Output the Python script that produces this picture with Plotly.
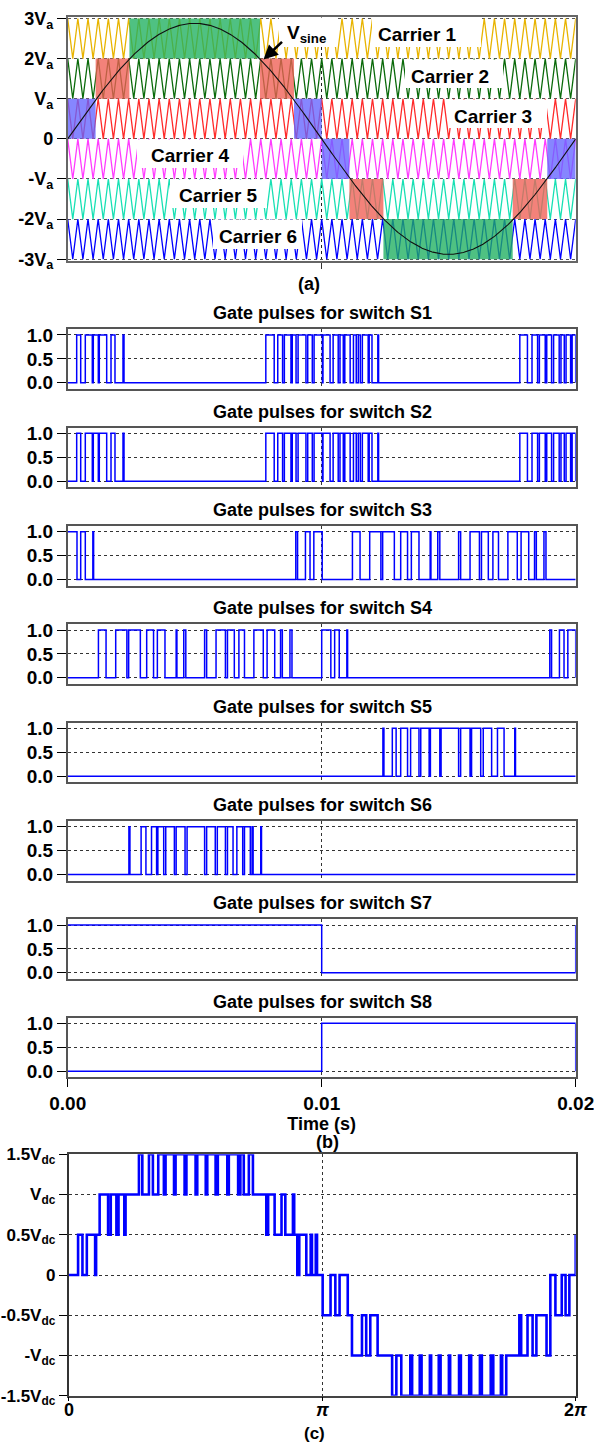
import numpy as np
import plotly.graph_objects as go

W, H = 594, 1445
FONT = "Liberation Sans"
BLUE = "#0000FF"

# ---------------- data ----------------
period_ms = 20.0
sine_peak = 2.88                 # reference amplitude (Va)
carrier_cycles = 50              # carrier periods in one fundamental period
carrier_low = [2, 1, 0, -1, -2, -3]
carrier_names = ["Carrier 1", "Carrier 2", "Carrier 3", "Carrier 4", "Carrier 5", "Carrier 6"]
carrier_colors = ["#E8B400", "#0A6A0A", "#FF2A2A", "#FF3CFF", "#18E0B4", "#0000FF"]

# shaded operating regions of the reference
region_start_ms = [2.43, 12.43, 1.10, 7.57, 11.09, 17.52, 0.00, 8.91, 10.00, 18.88]
region_end_ms = [7.57, 17.52, 2.43, 8.91, 12.43, 18.88, 1.10, 10.00, 11.09, 20.00]
region_low = [2, -3, 1, 1, -2, -2, 0, 0, -1, -1]
region_fill = ["rgba(30,175,95,0.78)"] * 2 + ["rgba(240,95,85,0.78)"] * 4 + ["rgba(100,100,255,0.78)"] * 4

# gate signals: initial level and switching instants (ms)
S1_start = 0
S1_toggle_ms = [0.354, 0.512, 0.693, 0.969, 1.008, 1.205, 1.244, 1.535, 1.705, 1.862, 2.177, 2.217,
                7.80, 8.13, 8.27, 8.46, 8.53, 8.79, 8.84, 8.99, 9.07, 9.38, 9.45, 9.63, 9.70, 10.03,
                10.05, 10.33, 10.45, 10.65, 10.72, 10.85, 10.91, 11.12, 11.25, 11.36, 11.44, 11.52,
                11.60, 11.83, 11.87, 11.98, 12.21, 12.24,
                17.80, 18.10, 18.28, 18.50, 18.57, 18.80, 18.86, 19.05, 19.13, 19.35, 19.42, 19.55,
                19.62, 19.80, 19.86, 20.0]
S2_start = 0
S2_toggle_ms = list(S1_toggle_ms)
S3_start = 1
S3_toggle_ms = [0.366, 0.512, 0.693, 0.99, 1.02, 8.98, 9.05, 9.36, 9.54, 9.69, 10.02,
                11.21, 11.51, 11.89, 12.33, 12.40, 12.86, 13.11, 13.38, 13.53, 13.83, 14.27, 14.30,
                14.57, 14.65, 15.39, 15.47, 15.84, 16.21, 16.29, 16.56, 16.74, 16.96, 17.33, 17.70,
                17.85, 18.15, 18.38, 18.45, 18.75, 18.83]
S4_start = 0
S4_toggle_ms = [1.21, 1.51, 1.89, 2.33, 2.40, 2.86, 3.11, 3.38, 3.53, 3.83, 4.27, 4.30, 4.57, 4.65,
                5.39, 5.47, 5.84, 6.21, 6.29, 6.56, 6.74, 6.96, 7.33, 7.70, 7.85, 8.15, 8.38, 8.45,
                8.75, 8.83, 10.0, 10.36, 10.51, 10.69, 10.99, 11.02, 18.98, 19.05, 19.36, 19.54,
                19.69, 20.0]
S5_start = 0
S5_toggle_ms = [12.41, 12.45, 12.78, 12.93, 13.11, 13.38, 13.50, 13.83, 13.90, 14.23, 14.28, 14.65,
                14.70, 15.39, 15.47, 15.84, 15.90, 16.26, 16.36, 16.69, 16.92, 17.18, 17.60, 17.63]
S6_start = 0
S6_toggle_ms = [2.41, 2.45, 2.89, 3.08, 3.30, 3.50, 3.55, 3.78, 3.86, 4.20, 4.27, 4.62, 4.70, 5.39,
                5.47, 5.81, 5.89, 6.21, 6.29, 6.51, 6.66, 6.89, 6.96, 7.19, 7.26, 7.30, 7.60, 7.63]
S7_start = 1
S7_toggle_ms = [10.0, 20.0]
S8_start = 0
S8_toggle_ms = [10.0, 20.0]

# inverter output: change instants (deg) and level after each change (Vdc)
vo_deg = [6.8, 9.9, 13.0, 18.9, 19.6, 22.1, 28.1, 30.0, 34.0, 35.5, 39.6, 40.5,
          50.0, 52.4, 57.1, 59.9, 63.7, 67.7, 68.9, 74.9, 76.0, 82.4, 83.7, 90.2, 91.4, 97.4,
          98.5, 104.4, 106.0, 112.7, 113.8, 120.4, 122.0, 124.4, 128.0, 130.9,
          140.4, 141.7, 146.3, 151.2, 153.9, 159.3, 160.2, 162.4, 163.8, 168.8, 171.9, 172.8,
          175.5, 176.4,
          180.4, 186.0, 189.4, 192.4, 198.2, 201.2, 208.3, 211.3, 214.2, 219.4,
          229.7, 232.7, 236.2, 242.6, 243.9, 249.3, 250.6, 256.5, 257.4, 262.8, 264.1, 270.0,
          270.9, 277.2, 278.5, 284.4, 285.8, 292.0, 293.4, 299.7, 301.5, 306.9, 307.8, 310.7,
          320.0, 321.3, 325.8, 329.4, 332.1, 339.3, 342.0, 345.6, 350.1, 352.8, 355.5, 360.0]
vo_level = [0.5, 0, 0.5, 0, 0.5, 1, 0.5, 1, 0.5, 1, 0.5, 1,
            1.5, 1, 1.5, 1, 1.5, 1, 1.5, 1, 1.5, 1, 1.5, 1, 1.5, 1,
            1.5, 1, 1.5, 1, 1.5, 1, 1.5, 1, 1.5, 1,
            0.5, 1, 0.5, 1, 0.5, 1, 0.5, 0, 0.5, 0, 0.5, 0,
            0.5, 0,
            -0.5, 0, -0.5, 0, -0.5, -1, -0.5, -1, -0.5, -1,
            -1.5, -1, -1.5, -1, -1.5, -1, -1.5, -1, -1.5, -1, -1.5, -1,
            -1.5, -1, -1.5, -1, -1.5, -1, -1.5, -1, -1.5, -1, -1.5, -1,
            -0.5, -1, -0.5, -1, -0.5, -1, 0, -0.5, 0, -0.5, 0, 0.5]

gate_titles = ["Gate pulses for switch S%d" % k for k in range(1, 9)]
gate_starts = [S1_start, S2_start, S3_start, S4_start, S5_start, S6_start, S7_start, S8_start]
gate_toggles = [S1_toggle_ms, S2_toggle_ms, S3_toggle_ms, S4_toggle_ms,
                S5_toggle_ms, S6_toggle_ms, S7_toggle_ms, S8_toggle_ms]

c_tick_deg = [0, 180, 360]
c_tick_text = ["0", "<i>π</i>", "2<i>π</i>"]

# ---------------- helpers ----------------
def px_x(p):
    return p / W


def px_y(p):
    return 1 - p / H


def dom(top, bottom):
    return [px_y(bottom), px_y(top)]


def step_xy(start, toggles, end, x0=0.0):
    xs, ys = [x0], [start]
    lvl = start
    for t in toggles:
        xs += [t, t]
        ys += [lvl, 1 - lvl]
        lvl = 1 - lvl
    if xs[-1] < end:
        xs.append(end)
        ys.append(lvl)
    return xs, ys


def level_xy(start, times, levels, end):
    xs, ys = [0.0], [start]
    lvl = start
    for t, v in zip(times, levels):
        xs += [t, t]
        ys += [lvl, v]
        lvl = v
    if xs[-1] < end:
        xs.append(end)
        ys.append(lvl)
    return xs, ys


fig = go.Figure()
X_DOM = [px_x(67.7), px_x(575.7)]
TICKFONT_A = dict(family=FONT, size=18, color="black", weight="bold")
TICKFONT_B = dict(family=FONT, size=19, color="black", weight="bold")
TICKFONT_C = dict(family=FONT, size=17, color="black", weight="bold")

# ---------------- panel (a) ----------------
for low, col in zip(carrier_low, carrier_colors):
    tv = np.linspace(0, period_ms, 2 * carrier_cycles + 1)
    cv = np.where(np.arange(tv.size) % 2 == 0, low + 1, low)
    fig.add_trace(go.Scatter(x=tv / 1000, y=cv, mode="lines", line=dict(color=col, width=1.3),
                             xaxis="x", yaxis="y", hoverinfo="skip", showlegend=False))

for t0, t1, low, fc in zip(region_start_ms, region_end_ms, region_low, region_fill):
    fig.add_trace(go.Scatter(x=[t0 / 1000, t1 / 1000, t1 / 1000, t0 / 1000, t0 / 1000],
                             y=[low, low, low + 1, low + 1, low], mode="lines", fill="toself",
                             fillcolor=fc, line=dict(width=0), xaxis="x", yaxis="y",
                             hoverinfo="skip", showlegend=False))

ts = np.linspace(0, period_ms, 801)
fig.add_trace(go.Scatter(x=ts / 1000, y=sine_peak * np.sin(2 * np.pi * ts / period_ms), mode="lines",
                         line=dict(color="#111111", width=1.1), xaxis="x", yaxis="y",
                         hoverinfo="skip", showlegend=False))

a_ticks = [3, 2, 1, 0, -1, -2, -3]
a_text = ["3V<sub>a</sub>", "2V<sub>a</sub>", "V<sub>a</sub>", "0", "-V<sub>a</sub>",
          "-2V<sub>a</sub>", "-3V<sub>a</sub>"]

layout = dict(
    width=W, height=H, margin=dict(l=0, r=0, t=0, b=0),
    paper_bgcolor="white", plot_bgcolor="white", showlegend=False,
    font=dict(family=FONT, color="black"),
)
layout["xaxis"] = dict(domain=X_DOM, range=[0, 0.02], tickvals=[0.01], showticklabels=False,
                       ticks="outside", ticklen=6, tickcolor="#333", showgrid=True, gridcolor="#222",
                       griddash="dot", gridwidth=1, showline=True, mirror=True, linecolor="#666",
                       linewidth=1.5, zeroline=False, anchor="y", automargin=False)
layout["yaxis"] = dict(domain=dom(16.7, 261), range=[-3.045, 3.045], tickvals=a_ticks, ticktext=a_text,
                       ticks="outside", ticklen=9, tickcolor="black", tickfont=TICKFONT_A,
                       ticklabeloverflow="allow",
                       showgrid=True, gridcolor="#555", griddash="dot", gridwidth=1,
                       showline=True, mirror=True, linecolor="#666", linewidth=1.5,
                       zeroline=False, anchor="x", automargin=False)

# ---------------- panel (b) ----------------
gate_top0 = 329.3
gate_gap = 98.34
gate_h = 59.8
for i in range(8):
    ax = i + 2
    xs, ys = step_xy(gate_starts[i], gate_toggles[i], period_ms)
    fig.add_trace(go.Scatter(x=np.array(xs) / 1000, y=ys, mode="lines",
                             line=dict(color=BLUE, width=1.5), xaxis="x%d" % ax, yaxis="y%d" % ax,
                             hoverinfo="skip", showlegend=False))
    top = gate_top0 + i * gate_gap
    last = i == 7
    layout["xaxis%d" % ax] = dict(
        domain=X_DOM, range=[0, 0.02], tickvals=[0, 0.01, 0.02], ticktext=["0.00", "0.01", "0.02"],
        showticklabels=last, ticks="outside" if last else "", ticklen=8, tickcolor="black",
        tickfont=TICKFONT_B, ticklabeloverflow="allow",
        showgrid=True, gridcolor="#333", griddash="dot", gridwidth=1,
        showline=True, mirror=True, linecolor="#555", linewidth=1.5, zeroline=False,
        anchor="y%d" % ax, automargin=False,
        title=dict(text="Time (s)", font=dict(family=FONT, size=18, weight="bold"), standoff=2) if last else None)
    layout["yaxis%d" % ax] = dict(
        domain=dom(top, top + gate_h), range=[-0.132, 1.119], tickvals=[0, 0.5, 1],
        ticktext=["0.0", "0.5", "1.0"], ticks="outside", ticklen=9, tickcolor="black",
        tickfont=TICKFONT_B, ticklabeloverflow="allow",
        showgrid=True, gridcolor="#333", griddash="dot", gridwidth=1,
        showline=True, mirror=True, linecolor="#555", linewidth=1.5, zeroline=False,
        anchor="x%d" % ax, automargin=False)

# ---------------- panel (c) ----------------
xs, ys = level_xy(0, vo_deg, vo_level, 360.0)
fig.add_trace(go.Scatter(x=np.radians(xs), y=ys, mode="lines", line=dict(color=BLUE, width=2.6),
                         xaxis="x10", yaxis="y10", hoverinfo="skip", showlegend=False))
c_ticks = [1.5, 1, 0.5, 0, -0.5, -1, -1.5]
c_text = ["1.5V<sub>dc</sub>", "V<sub>dc</sub>", "0.5V<sub>dc</sub>", "0", "-0.5V<sub>dc</sub>",
          "-V<sub>dc</sub>", "-1.5V<sub>dc</sub>"]
layout["xaxis10"] = dict(domain=[px_x(68.5), px_x(575.7)], range=[0, 2 * np.pi],
                         tickvals=np.radians(c_tick_deg).tolist(), showticklabels=False,
                         ticks="outside", ticklen=4, tickcolor="black",
                         showgrid=True, gridcolor="#333", griddash="dot", gridwidth=1,
                         showline=True, mirror=True, linecolor="#444", linewidth=1.5,
                         zeroline=False, anchor="y10", automargin=False)
layout["yaxis10"] = dict(domain=dom(1154.3, 1395.7), range=[-1.5, 1.5], tickvals=c_ticks, ticktext=c_text,
                         ticks="outside", ticklen=8, tickcolor="black", tickfont=TICKFONT_C,
                         ticklabeloverflow="allow",
                         showgrid=True, gridcolor="#333", griddash="dot", gridwidth=1,
                         showline=True, mirror=True, linecolor="#333", linewidth=1.5,
                         zeroline=False, anchor="x10", automargin=False)

# ---------------- label boxes and text ----------------
shapes = []
annotations = []
label_boxes = [  # x0, x1, y0, y1 in px; text centre x, y
    (372, 481, 17.5, 47, 417, 34, carrier_names[0]),
    (405, 503, 59.5, 88, 450, 76, carrier_names[1]),
    (448, 547, 99.5, 128, 493, 116, carrier_names[2]),
    (137, 243, 139.5, 168, 190, 156, carrier_names[3]),
    (170, 267, 179.5, 208, 218, 196, carrier_names[4]),
    (213, 302, 219.5, 249, 258, 237, carrier_names[5]),
]
for x0, x1, y0, y1, cx, cy, txt in label_boxes:
    shapes.append(dict(type="rect", xref="paper", yref="paper", x0=px_x(x0), x1=px_x(x1),
                       y0=px_y(y1), y1=px_y(y0), fillcolor="white", line=dict(width=0), layer="above"))
    annotations.append(dict(text="<b>%s</b>" % txt, xref="paper", yref="paper", x=px_x(cx), y=px_y(cy),
                            showarrow=False, font=dict(family=FONT, size=19, color="black"),
                            xanchor="center", yanchor="middle"))

shapes.append(dict(type="rect", xref="paper", yref="paper", x0=px_x(279), x1=px_x(336),
                   y0=px_y(47), y1=px_y(17.5), fillcolor="white", line=dict(width=0), layer="above"))
annotations.append(dict(text="<b>V<sub>sine</sub></b>", xref="paper", yref="paper", x=px_x(306), y=px_y(34),
                        showarrow=False, font=dict(family=FONT, size=19, color="black"),
                        xanchor="center", yanchor="middle"))
annotations.append(dict(text="", xref="paper", yref="paper", x=px_x(263.5), y=px_y(59.5),
                        ax=20, ay=-19, showarrow=True, arrowhead=2, arrowsize=1.1, arrowwidth=2.6,
                        arrowcolor="black"))

for i, title in enumerate(gate_titles):
    annotations.append(dict(text="<b>%s</b>" % title, xref="paper", yref="paper", x=px_x(322),
                            y=px_y(313.3 + i * gate_gap), showarrow=False,
                            font=dict(family=FONT, size=18, color="black"),
                            xanchor="center", yanchor="middle"))

# angle tick labels of panel (c)
for deg, txt in zip(c_tick_deg, c_tick_text):
    annotations.append(dict(text="<b>%s</b>" % txt, xref="x10", yref="paper", x=np.radians(deg),
                            y=px_y(1410), showarrow=False,
                            font=dict(family=FONT, size=18, color="black"),
                            xanchor="center", yanchor="middle"))

for txt, cx, cy, fs in [("(a)", 309, 284, 18), ("(b)", 327, 1141.7, 18), ("(c)", 314, 1433, 17)]:
    annotations.append(dict(text="<b>%s</b>" % txt, xref="paper", yref="paper", x=px_x(cx), y=px_y(cy),
                            showarrow=False, font=dict(family=FONT, size=fs, color="black"),
                            xanchor="center", yanchor="middle"))

layout["shapes"] = shapes
layout["annotations"] = annotations
fig.update_layout(**layout)
fig.write_html("out.html")
